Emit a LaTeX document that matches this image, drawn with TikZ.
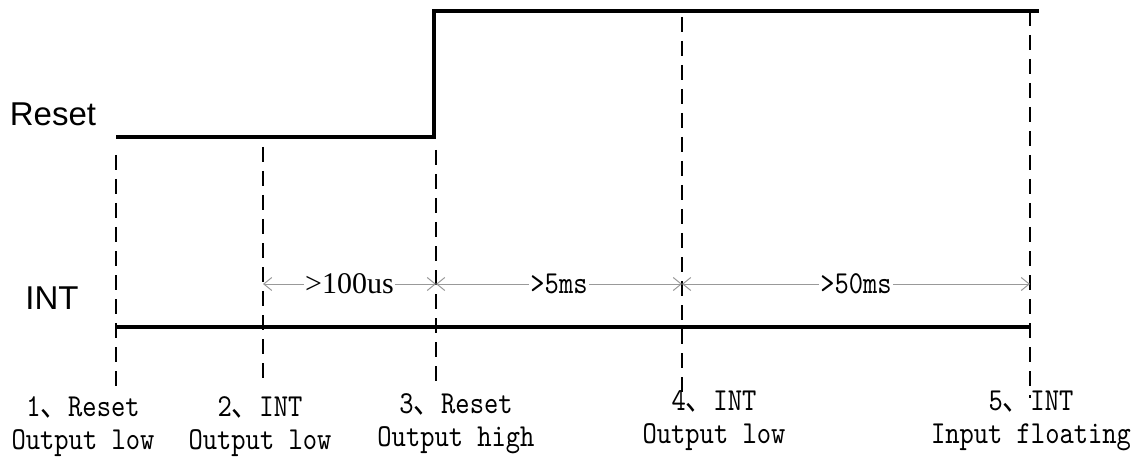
\documentclass[tikz,border=0pt]{standalone}
\usepackage{fontspec}
\setmainfont{Liberation Serif}
\newfontfamily\sigfont{Liberation Sans}
\newfontfamily\notefont[FakeStretch=0.85]{lmmono10-regular.otf}
\newfontfamily\cjkfont[FakeStretch=0.86]{Noto Sans CJK SC}
\usetikzlibrary{arrows.meta}
\newcommand{\cjkcomma}{{\cjkfont 、}}
\tikzset{
  sig/.style={line width=3.2pt, line join=miter},
  guide/.style={line width=2.3pt, dash pattern=on 15pt off 9pt},
  gaparrow/.style={gray!80, line width=1pt,
    {Straight Barb[length=8pt,width=13pt]}-{Straight Barb[length=8pt,width=13pt]}},
  gaplabel/.style={fill=white, inner sep=1pt, text=black},
  note/.style={font=\notefont\fontsize{32}{33}\selectfont, align=center},
  signame/.style={font=\sigfont\fontsize{33}{36}\selectfont}
}
\begin{document}
\begin{tikzpicture}[x=1pt,y=-1pt]
  \useasboundingbox (0,0) rectangle (1135,457);

  % Signal names
  \node[signame] (reset) at (53,114) {Reset};
  \node[signame] (int) at (52,298) {INT};

  % Reset waveform
  \coordinate (r0) at (116,137);
  \coordinate (r1) at (434,137);
  \coordinate (r2) at (434,11);
  \coordinate (r3) at (1039,11);
  \draw[sig] (r0) -- (r1) -- (r2) -- (r3);

  % INT waveform
  \coordinate (i0) at (116,327);
  \coordinate (i1) at (1030,327);
  \draw[sig] (i0) -- (i1);

  % Time marks
  \foreach \x/\ya/\yb/\n in {116/155/389/1, 263/147/381/2, 436/150/382/3, 682/17/398/4, 1030/11/398/5} {
    \coordinate (t\n) at (\x,\ya);
    \coordinate (b\n) at (\x,\yb);
    \coordinate (a\n) at (\x,284);
    \draw[guide] (t\n) -- (b\n);
  }

  % Delays
  \draw[gaparrow] (a2) -- node[gaplabel, font=\fontsize{30}{30}\selectfont] (d1) {>100us} (a3);
  \draw[gaparrow] (a3) -- node[gaplabel, note] (d2) {>5ms} (a4);
  \draw[gaparrow] (a4) -- node[gaplabel, note] (d3) {>50ms} (a5);

  % Step labels
  \node[note] (s1) at (83,427) {1\cjkcomma Reset\\Output low};
  \node[note] (s2) at (260,427) {2\cjkcomma INT\\Output low};
  \node[note] (s3) at (456,424) {3\cjkcomma Reset\\Output high};
  \node[note] (s4) at (714,421) {4\cjkcomma INT\\Output low};
  \node[note] (s5) at (1031,421) {5\cjkcomma INT\\Input floating};
\end{tikzpicture}
\end{document}
